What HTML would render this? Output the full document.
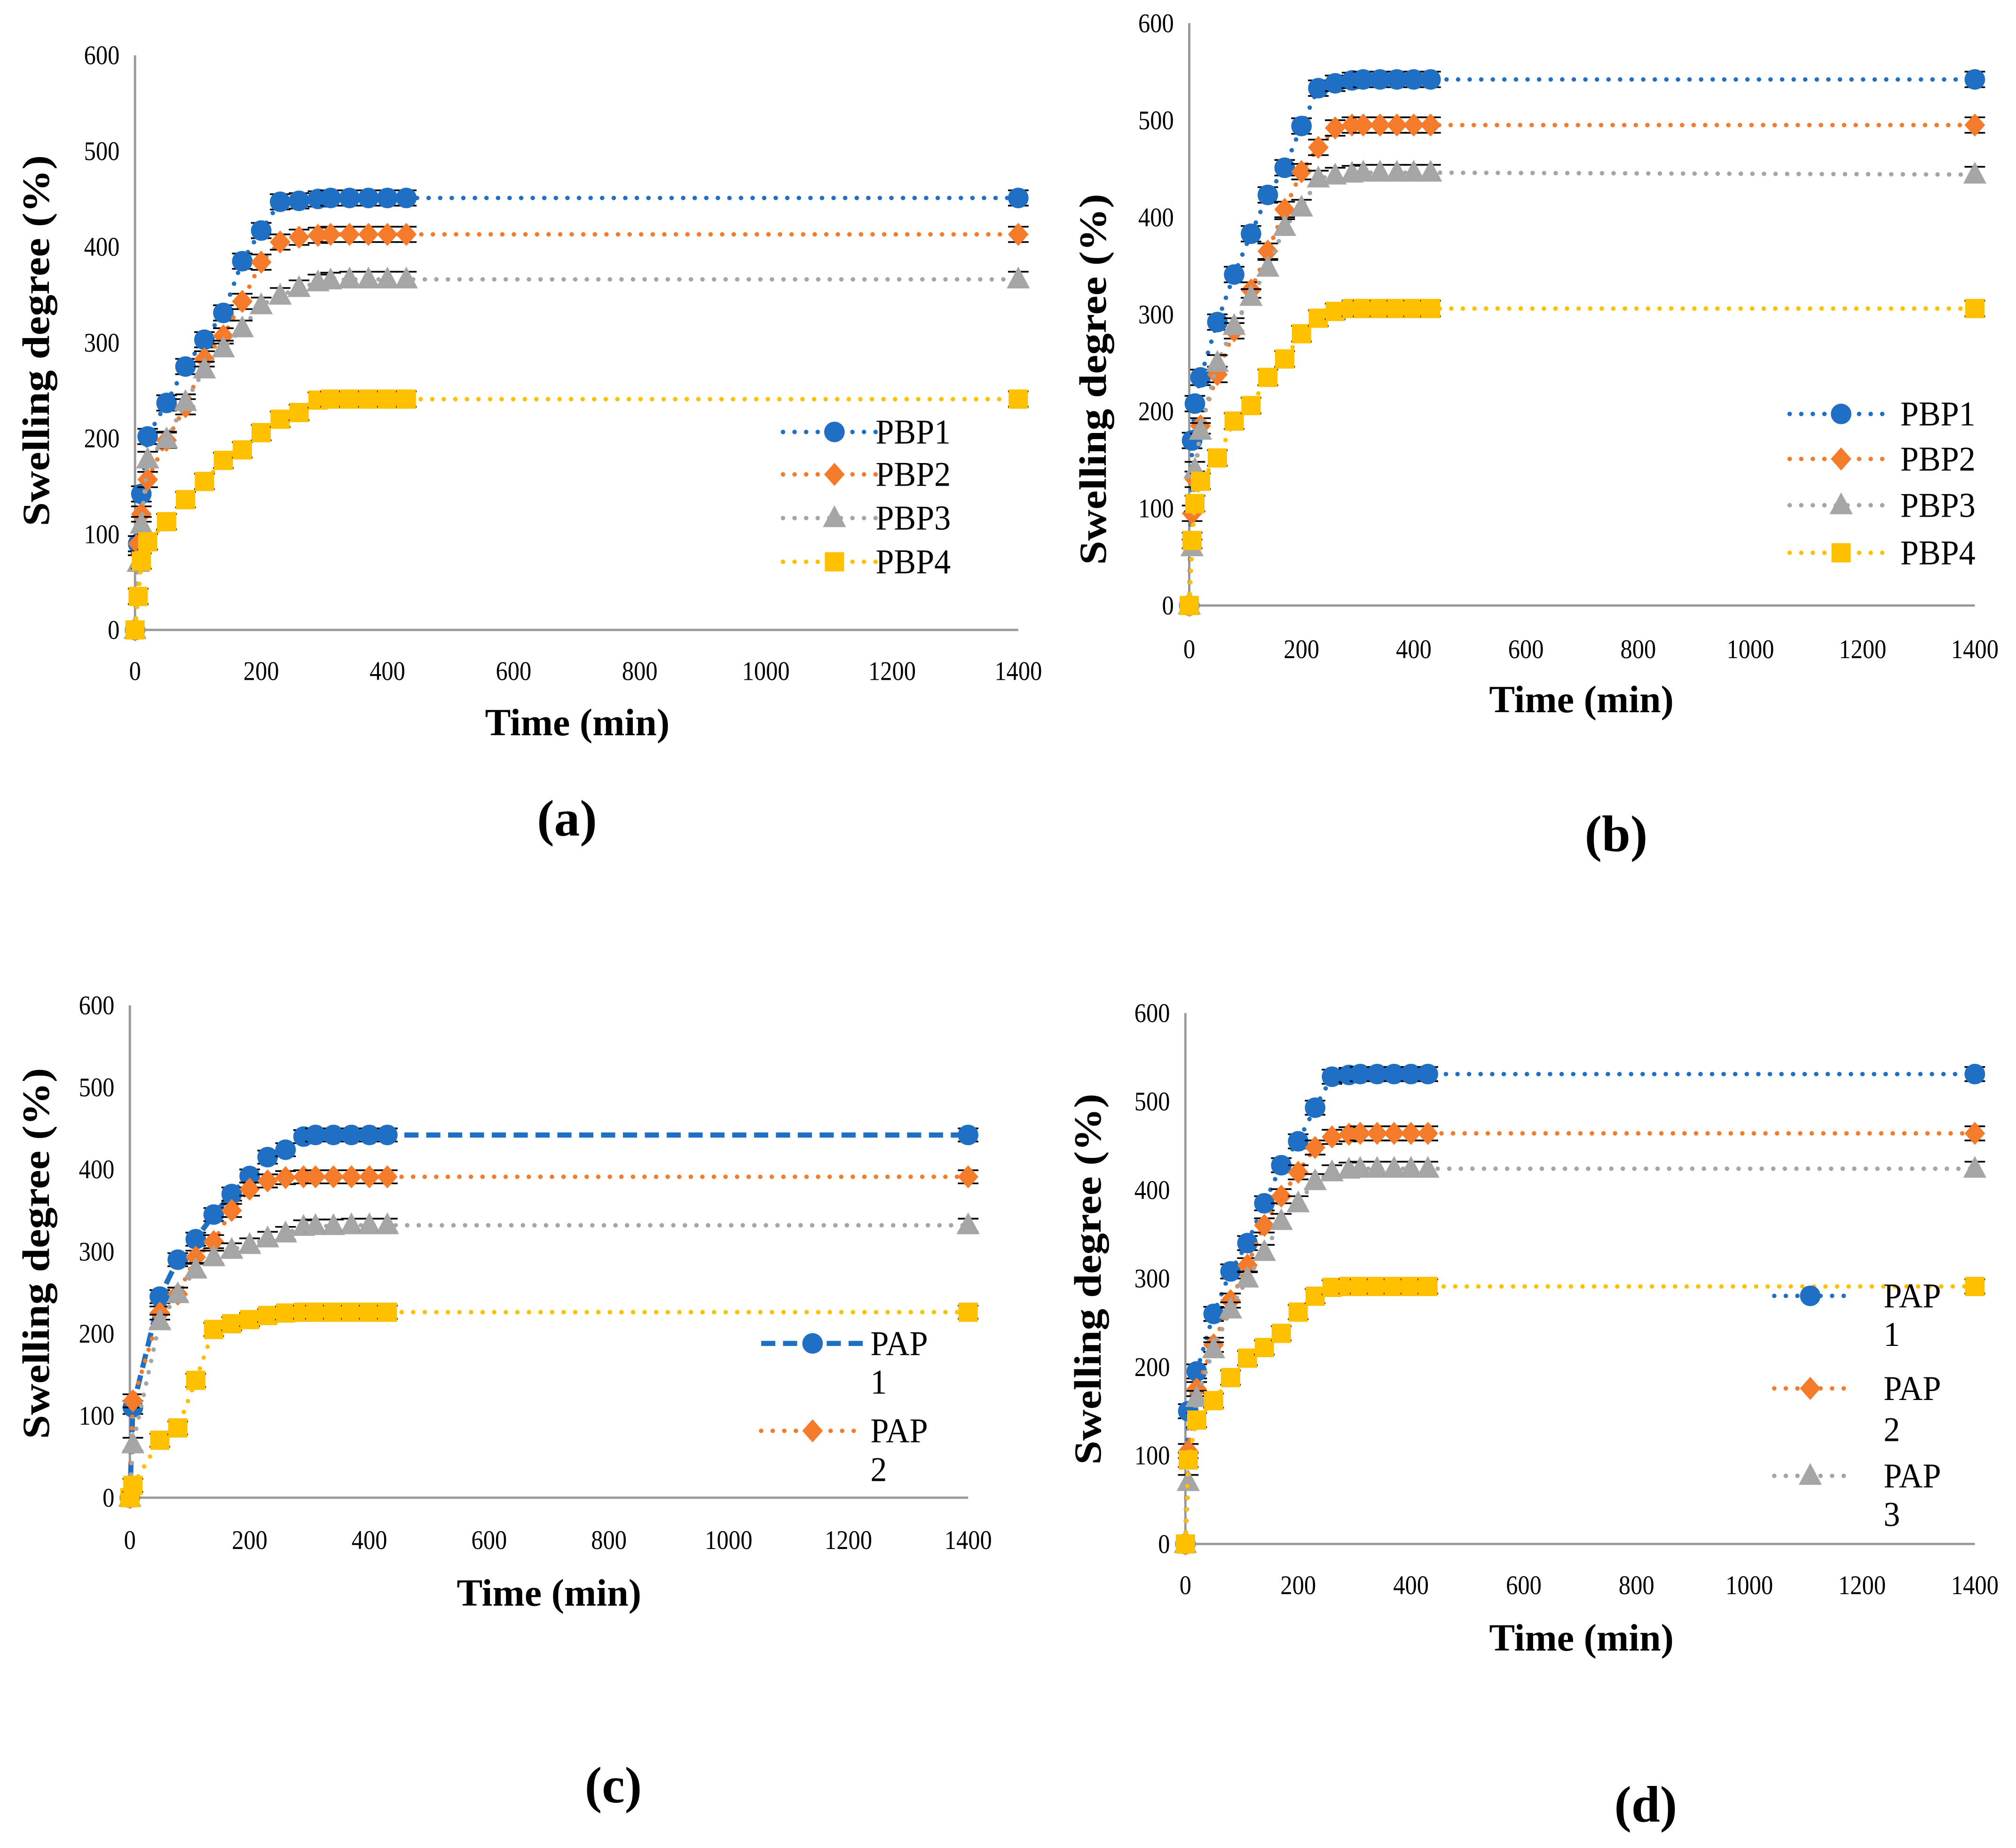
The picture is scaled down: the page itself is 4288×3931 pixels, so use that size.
<!DOCTYPE html>
<html><head><meta charset="utf-8"><style>html,body{margin:0;padding:0;background:#fff}svg{display:block}</style></head>
<body>
<svg id="fig" xmlns="http://www.w3.org/2000/svg" width="4288" height="3931" viewBox="0 0 1568 1437.5">
<rect width="1568" height="1437.5" fill="#fff"/>
</svg>
<script>
const timesAB = [0,5,10,20,50,80,110,140,170,200,230,260,290,310,340,370,400,430,1400];
const timesC = [0,5,50,80,110,140,170,200,230,260,290,310,340,370,400,430,1400];
const timesD = [0,5,20,50,80,110,140,170,200,230,260,290,310,340,370,400,430,1400];
const xTicks = [0,200,400,600,800,1000,1200,1400];
const yTicks = [0,100,200,300,400,500,600];

const aPBP1 = [0,90,142,202,237,275,303,331,385,417,447,448,450,451,451,451,451,451,451];
const aPBP2 = [0,90,121,157,198,233,283,307,343,384,405,410,412,413,413,413,413,413,413];
const aPBP3 = [0,70,110,178,199,238,272,294,315,339,349,357,363,365,366,366,366,366,366];
const aPBP4 = [0,35,72,92,113,136,155,177,188,206,220,227,240,241,241,241,241,241,241];

const bPBP1 = [0,170,208,235,292,341,383,423,451,494,533,538,541,542,542,542,542,542,542];
const bPBP2 = [0,95,130,185,238,283,325,365,408,447,472,492,495,495,495,495,495,495,495];
const bPBP3 = [0,60,140,180,250,288,318,348,390,410,440,443,445,446,446,446,446,446,444];
const bPBP4 = [0,67,105,128,152,190,206,235,254,280,296,303,306,306,306,306,306,306,306];

const cPAP1 = [0,110,245,290,315,345,370,392,415,424,440,442,442,442,442,442,442];
const cPAP2 = [0,118,225,248,293,312,350,376,386,390,391,391,391,391,391,391,391];
const cPAP3 = [0,65,215,248,278,293,302,308,316,322,330,331,331,332,332,332,332];
const cPAP4 = [0,15,70,85,143,205,212,217,222,225,226,226,226,226,226,226,226];

const dPAP1 = [0,150,195,260,308,340,385,428,455,493,528,530,531,531,531,531,531,531];
const dPAP2 = [0,105,175,225,275,315,360,393,420,448,460,463,464,464,464,464,464,464];
const dPAP3 = [0,70,165,220,265,300,330,365,385,410,420,423,424,424,424,424,424,424];
const dPAP4 = [0,95,140,162,188,210,222,238,262,280,290,291,291,291,291,291,291,291];

const errVal = 8;
const NS = 'http://www.w3.org/2000/svg';
const svg = document.getElementById('fig');
const COL = {blue:'#1F6FC5', orange:'#F47B2A', gray:'#A5A5A5', yellow:'#FFC000'};

function mk(tag, attrs, parent){ const e=document.createElementNS(NS,tag); for(const k in attrs) e.setAttribute(k,attrs[k]); (parent||svg).appendChild(e); return e; }
function txt(parent, s, x, y, size, anchor, bold, sx){
  const t = mk('text',{transform:`translate(${x},${y}) scale(${sx||0.85},1)`,'font-family':'"Liberation Serif", serif','font-size':size,'text-anchor':anchor||'start','font-weight':bold?'bold':'normal',fill:'#000'},parent);
  t.textContent=s; return t;
}
function marker(g, shape, x, y, color, name){
  let m;
  if(shape==='circle') m=mk('circle',{cx:x,cy:y,r:8,fill:color},g);
  else if(shape==='diamond') m=mk('polygon',{points:`${x},${y-9} ${x+8},${y} ${x},${y+9} ${x-8},${y}`,fill:color},g);
  else if(shape==='triangle') m=mk('polygon',{points:`${x},${y-10} ${x+9},${y+7} ${x-9},${y+7}`,fill:color},g);
  else m=mk('rect',{x:x-7.5,y:y-7.5,width:15,height:15,fill:color},g);
  
  
  return m;
}
function lineStyle(dashed){
  return dashed ? {'stroke-width':4,'stroke-dasharray':'11 6','stroke-linecap':'butt'} : {'stroke-width':3.5,'stroke-dasharray':'0 9','stroke-linecap':'round'};
}

function drawPanel(cfg){
  const g = mk('g',{});
  
  
  const xs = v => cfg.x0 + (cfg.x1-cfg.x0)*v/1400;
  const ys = v => cfg.y0 - (cfg.y0-cfg.yTop)*v/600;
  const ax = mk('path',{d:`M${cfg.x0},${cfg.yTop} L${cfg.x0},${cfg.y0} L${cfg.x1},${cfg.y0}`,stroke:'#999',fill:'none','stroke-width':1.8},g);
  
  
  yTicks.forEach(v=>{ const t=txt(g,String(v),cfg.x0-12,ys(v)+7,21,'end',false,0.88);   });
  xTicks.forEach(v=>{ const t=txt(g,String(v),xs(v),cfg.xLabY,21,'middle',false,0.88);   });
  const yt = txt(g,'Swelling degree (%)',0,0,30,'middle',true,1);
  yt.setAttribute('transform',`translate(${cfg.yTitle[0]},${cfg.yTitle[1]}) rotate(-90) scale(1.12,1)`);
   
  const xt = txt(g,'Time (min)',cfg.xTitle[0],cfg.xTitle[1],30,'middle',true,1);
   
  const pl = txt(g,cfg.label,cfg.labelPos[0],cfg.labelPos[1],40,'middle',true,1);
   

  cfg.series.forEach(s=>{
    const sg = mk('g',{},g);
    
    
    const d = s.vals.map((v,i)=>(i?'L':'M')+xs(cfg.times[i]).toFixed(1)+','+ys(v).toFixed(1)).join(' ');
    const ln = mk('path',Object.assign({d:d,stroke:s.color,fill:'none'},lineStyle(s.dashed)),sg);
     
    s.vals.forEach((v,i)=>{
      const x=xs(cfg.times[i]);
      if(v>0){
        const ya=ys(v+errVal), yb=ys(v-errVal);
        const e=mk('path',{d:`M${x},${ya} L${x},${yb} M${x-8},${ya} L${x+8},${ya} M${x-8},${yb} L${x+8},${yb}`,stroke:'#000','stroke-width':1.3,fill:'none'},sg);
         
      }
      marker(sg,s.shape,x,ys(v),s.color,'data-point');
    });
  });
  cfg.legend.forEach(L=>{
    const lg = mk('g',{},g);
    
    
    const ll=mk('path',Object.assign({d:`M${L.lx0},${L.y} L${L.lx1},${L.y}`,stroke:L.color,fill:'none'},lineStyle(L.dashed)),lg);
     
    marker(lg,L.shape,L.mx,L.y,L.color,'legend-marker');
    L.lines.forEach((s,k)=>{ const t=txt(lg,s,L.tx,L.y+9+k*L.gap,27,'start',false,0.95);   });
  });
}

function leg(color,shape,y,lx0,lx1,mx,tx,lines,gap,dashed){return {color,shape,y,lx0,lx1,mx,tx,lines,gap:gap||0,dashed};}

drawPanel({name:'panel-a',label:'(a)',labelPos:[441,650],x0:105,x1:792,yTop:43,y0:490,xLabY:529,yTitle:[38,265],xTitle:[449,572],times:timesAB,
  series:[{label:'PBP1',vals:aPBP1,color:COL.blue,shape:'circle'},{label:'PBP2',vals:aPBP2,color:COL.orange,shape:'diamond'},{label:'PBP3',vals:aPBP3,color:COL.gray,shape:'triangle'},{label:'PBP4',vals:aPBP4,color:COL.yellow,shape:'square'}],
  legend:[leg(COL.blue,'circle',336,609,686,649,681,['PBP1']),leg(COL.orange,'diamond',369,609,686,649,681,['PBP2']),leg(COL.gray,'triangle',403,609,686,649,681,['PBP3']),leg(COL.yellow,'square',437,609,686,649,681,['PBP4'])]});

drawPanel({name:'panel-b',label:'(b)',labelPos:[1257,662],x0:925,x1:1536,yTop:18,y0:471,xLabY:512,yTitle:[860,295],xTitle:[1230,554],times:timesAB,
  series:[{label:'PBP1',vals:bPBP1,color:COL.blue,shape:'circle'},{label:'PBP2',vals:bPBP2,color:COL.orange,shape:'diamond'},{label:'PBP3',vals:bPBP3,color:COL.gray,shape:'triangle'},{label:'PBP4',vals:bPBP4,color:COL.yellow,shape:'square'}],
  legend:[leg(COL.blue,'circle',322,1392,1468,1432,1478,['PBP1']),leg(COL.orange,'diamond',357,1392,1468,1432,1478,['PBP2']),leg(COL.gray,'triangle',393,1392,1468,1432,1478,['PBP3']),leg(COL.yellow,'square',430,1392,1468,1432,1478,['PBP4'])]});

drawPanel({name:'panel-c',label:'(c)',labelPos:[477,1402],x0:101,x1:753,yTop:782,y0:1165,xLabY:1205,yTitle:[38,975],xTitle:[427,1249],times:timesC,
  series:[{label:'PAP1',vals:cPAP1,color:COL.blue,shape:'circle',dashed:true},{label:'PAP2',vals:cPAP2,color:COL.orange,shape:'diamond'},{label:'PAP3',vals:cPAP3,color:COL.gray,shape:'triangle'},{label:'PAP4',vals:cPAP4,color:COL.yellow,shape:'square'}],
  legend:[leg(COL.blue,'circle',1045,592,672,632,677,['PAP','1'],30,true),leg(COL.orange,'diamond',1113,592,672,632,677,['PAP','2'],30)]});

drawPanel({name:'panel-d',label:'(d)',labelPos:[1280,1417],x0:922,x1:1536,yTop:788,y0:1201,xLabY:1240,yTitle:[856,995],xTitle:[1230,1284],times:timesD,
  series:[{label:'PAP1',vals:dPAP1,color:COL.blue,shape:'circle'},{label:'PAP2',vals:dPAP2,color:COL.orange,shape:'diamond'},{label:'PAP3',vals:dPAP3,color:COL.gray,shape:'triangle'},{label:'PAP4',vals:dPAP4,color:COL.yellow,shape:'square'}],
  legend:[leg(COL.blue,'circle',1008,1380,1442,1408,1465,['PAP','1'],30),leg(COL.orange,'diamond',1080,1380,1442,1408,1465,['PAP','2'],32),leg(COL.gray,'triangle',1148,1380,1442,1408,1465,['PAP','3'],30)]});
</script>
</body></html>
